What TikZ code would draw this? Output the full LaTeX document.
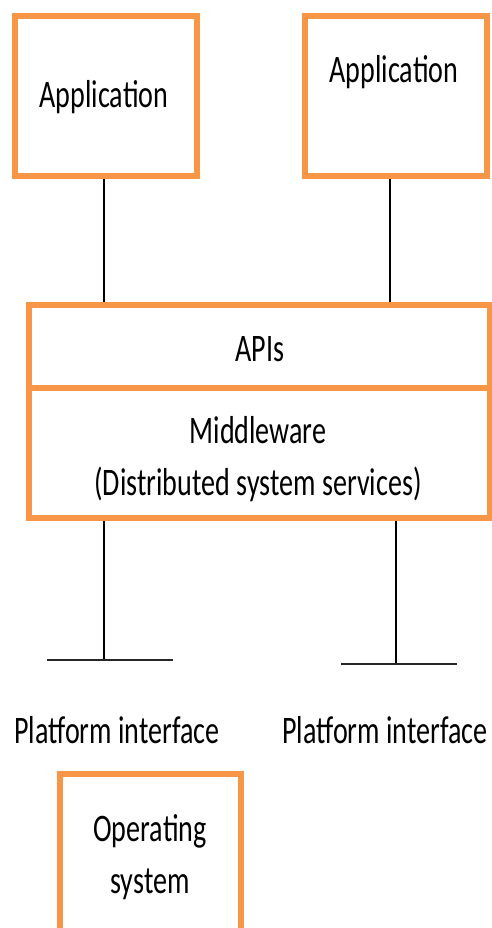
\documentclass[tikz,border=0pt]{standalone}
\usepackage{fontspec}
\setmainfont{Carlito}[FakeStretch=0.72]
\usetikzlibrary{positioning}
\definecolor{boxorange}{HTML}{F79646}

\begin{document}
\begin{tikzpicture}[x=1pt,y=-1pt,
  framebox/.style={draw=boxorange, line width=6pt, inner sep=0pt},
  txt/.style={font=\fontsize{39}{52}\selectfont, inner sep=0pt, align=center},
  wire/.style={draw=black, line width=1.5pt},
  bar/.style={draw=black!85, line width=2pt}]
\clip (0,0) rectangle (492,928);
% boxes
\node[framebox, minimum width=182pt, minimum height=160pt] (app1) at (105.5,96) {};
\node[framebox, minimum width=182pt, minimum height=160pt] (app2) at (395.5,96) {};
\node[framebox, minimum width=461.5pt, minimum height=83pt] (apis) at (259.25,346) {};
\node[framebox, minimum width=461.5pt, minimum height=130.5pt] (mw) at (259.25,452.75) {};
\node[framebox, minimum width=181pt, minimum height=186pt] (os) at (150,867) {};
% texts
\node[txt, anchor=base] (app1txt) at (104,108) {Application};
\node[txt, anchor=base] (app2txt) at (394,83) {Application};
\node[txt, anchor=base] (apistxt) at (260,361) {APIs};
\node[txt] (mwtxt) at (258,459) {Middleware\\(Distributed system services)};
\node[txt, anchor=base] (pif1) at (117,743) {Platform interface};
\node[txt, anchor=base] (pif2) at (385,743) {Platform interface};
\node[txt] (ostxt) at (150,857) {Operating\\system};
% connectors
\coordinate (a1) at (104,0);
\coordinate (a2) at (390,0);
\coordinate (p1) at (104,660);
\coordinate (p2) at (396,664);
\draw[wire] (app1.south -| a1) -- (apis.north -| a1);
\draw[wire] (app2.south -| a2) -- (apis.north -| a2);
\draw[wire] (mw.south -| p1) -- (p1);
\draw[wire] (mw.south -| p2) -- (p2);
\draw[bar] ([xshift=-57pt]p1) -- ([xshift=69pt]p1);
\draw[bar] ([xshift=-55pt]p2) -- ([xshift=61pt]p2);
\end{tikzpicture}
\end{document}
